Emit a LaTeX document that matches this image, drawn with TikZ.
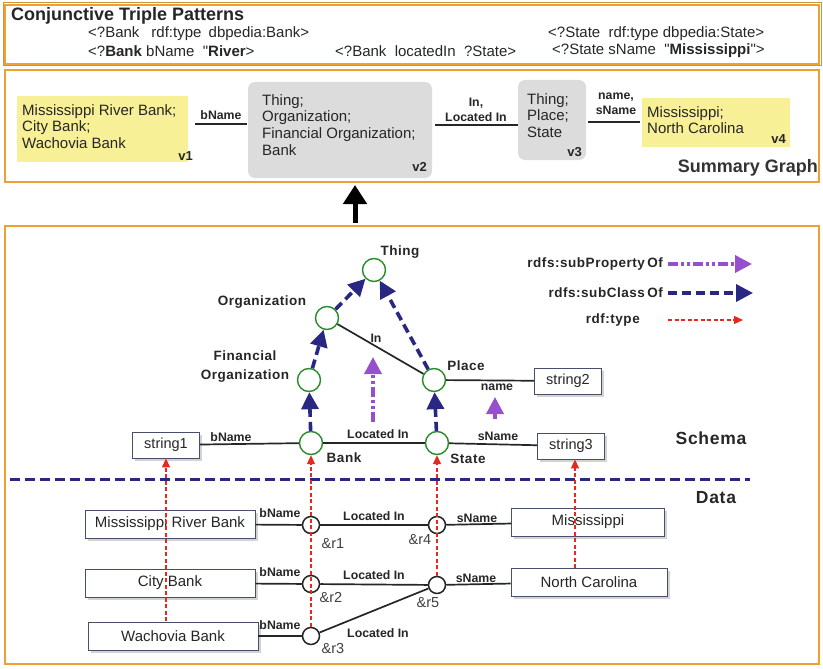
\documentclass[tikz,border=0pt]{standalone}
\usepackage{fontspec}
\setmainfont{Liberation Sans}
\newfontfamily\spacedsans[LetterSpace=4]{Liberation Sans}
\usetikzlibrary{arrows.meta,shadows}

\definecolor{frameor}{RGB}{240,160,50}
\definecolor{framegold}{RGB}{200,150,60}
\definecolor{sumyel}{RGB}{248,240,150}
\definecolor{sumgry}{RGB}{220,220,220}
\definecolor{clsgreen}{RGB}{40,140,40}
\definecolor{navyb}{RGB}{40,40,130}
\definecolor{violet2}{RGB}{150,80,205}
\definecolor{typered}{RGB}{230,40,30}
\definecolor{boxedge}{RGB}{70,80,105}

\tikzset{
  panel/.style={draw=frameor,line width=1.6pt},
  sumtxt/.style={font=\fontsize{15}{16.8}\selectfont,align=left,anchor=north west,inner sep=0pt,text=black!85},
  vtag/.style={font=\fontsize{13}{15}\selectfont\bfseries,anchor=south east,inner sep=0pt,text=black!85},
  sumedge/.style={line width=2.4pt,black!85},
  elabel/.style={font=\fontsize{12.3}{13}\selectfont\bfseries,inner sep=1pt,text=black!85},
  schlabel/.style={font=\spacedsans\fontsize{13.5}{15}\selectfont\bfseries,inner sep=1pt,text=black!85},
  cls/.style={circle,draw=clsgreen,line width=1.4pt,minimum size=23pt,inner sep=0pt,fill=white},
  inst/.style={circle,draw=black!85,line width=1.5pt,minimum size=17pt,inner sep=0pt,fill=white},
  strbox/.style={draw=boxedge,line width=0.8pt,fill=white,drop shadow={opacity=0.35},
    minimum width=67pt,minimum height=26pt,font=\fontsize{14.5}{15}\selectfont,inner sep=0pt,text=black!85},
  databox/.style={draw=boxedge,line width=0.8pt,fill=white,drop shadow={opacity=0.35},
    minimum height=28pt,font=\fontsize{15}{16}\selectfont,inner sep=0pt,text=black!85},
  schedge/.style={line width=1.7pt,black!85},
  subcls/.style={navyb,line width=3.6pt,dash pattern=on 9pt off 5pt,
    -{Triangle[length=17pt,width=17pt]}},
  subprop/.style={violet2,line width=3.6pt,dash pattern=on 10pt off 3pt on 3pt off 3pt on 3pt off 3pt,
    -{Triangle[length=17pt,width=17pt]}},
  rdftype/.style={typered,line width=1.2pt,dash pattern=on 4pt off 2.5pt,
    -{Triangle[length=9pt,width=8pt]}},
  ilabel/.style={font=\fontsize{14.5}{15}\selectfont,inner sep=0pt,text=black!75},
}

\begin{document}
\begin{tikzpicture}[x=1pt,y=-1pt]
\useasboundingbox (0,0) rectangle (823,669);

% ---------- conjunctive triple patterns ----------
\draw[framegold,line width=1pt] (3,3) rectangle (821,66);
\draw[panel] (5,5) rectangle (819,64);
\node[anchor=west,inner sep=0pt,font=\fontsize{18}{20}\selectfont\bfseries,text=black!85] (ctp) at (11,16) {Conjunctive Triple Patterns};
\begin{scope}[every node/.style={anchor=west,inner sep=0pt,font=\fontsize{15}{16}\selectfont,text=black!85}]
  \node (q1) at (88,34) {<?Bank\hspace{12pt}rdf:type\hspace{3pt} dbpedia:Bank>};
  \node (q2) at (88,51) {<?\textbf{Bank} bName \ \textquotedbl\textbf{River}>};
  \node (q3) at (335,51) {<?Bank\ \ locatedIn \ ?State>};
  \node (q4) at (548,34) {<?State\ \ rdf:type dbpedia:State>};
  \node (q5) at (552,51) {<?State sName \ \textquotedbl\textbf{Mississippi}\textquotedbl>};
\end{scope}

% ---------- summary graph ----------
\draw[panel] (5,70) rectangle (819,182);
\fill[sumyel] (17,96) rectangle (188,162);
\node[sumtxt] (v1t) at (22,104) {Mississippi River Bank;\\City Bank;\\Wachovia Bank};
\node[vtag] (v1) at (193,161) {v1};
\fill[sumgry,rounded corners=7pt] (248,82) rectangle (432,178);
\node[sumtxt] (v2t) at (262,94) {Thing;\\Organization;\\Financial Organization;\\Bank};
\node[vtag] (v2) at (427,172) {v2};
\fill[sumgry,rounded corners=7pt] (518,80) rectangle (586,160);
\node[sumtxt] (v3t) at (527,93) {Thing;\\Place;\\State};
\node[vtag] (v3) at (582,157) {v3};
\fill[sumyel] (642,98) rectangle (790,147);
\node[sumtxt] (v4t) at (647,106) {Mississippi;\\North Carolina};
\node[vtag] (v4) at (786,144) {v4};

\coordinate (e1a) at (195,124); \coordinate (e1b) at (247,124);
\draw[sumedge] (e1a) -- (e1b);
\node[elabel] (l1) at (221,115) {bName};
\coordinate (e2a) at (435,125); \coordinate (e2b) at (518,125);
\draw[sumedge] (e2a) -- (e2b);
\node[elabel,align=center,font=\fontsize{12.3}{15}\selectfont\bfseries] (l2) at (476,110) {In,\\Located In};
\coordinate (e3a) at (588,122); \coordinate (e3b) at (640,122);
\draw[sumedge] (e3a) -- (e3b);
\node[elabel,align=center,font=\fontsize{12.3}{15}\selectfont\bfseries] (l3) at (616,104) {name,\\sName};
\node[anchor=east,inner sep=0pt,font=\fontsize{18}{20}\selectfont\bfseries,text=black!80] (sg) at (818,168) {Summary Graph};

% arrow from the data graph up to its summary
\coordinate (up1) at (355,223); \coordinate (up2) at (355,185);
\draw[line width=5pt,-{Triangle[length=19pt,width=23pt]}] (up1) -- (up2);

% ---------- schema and data ----------
\draw[panel] (5,226) rectangle (819,664);

% legend
\node[schlabel,anchor=east] (lg1) at (664,264) {rdfs:subProperty\,Of};
\node[schlabel,anchor=east] (lg2) at (664,293) {rdfs:subClass\,Of};
\node[schlabel,anchor=east] (lg3) at (641,320) {rdf:type};
\coordinate (la1) at (668,264); \coordinate (lb1) at (752,264);
\coordinate (la2) at (668,293); \coordinate (lb2) at (753,293);
\coordinate (la3) at (668,320); \coordinate (lb3) at (743,320);
\draw[subprop] (la1) -- (lb1);
\draw[subcls] (la2) -- (lb2);
\draw[rdftype] (la3) -- (lb3);

% schema classes
\node[cls] (thing) at (374,270) {};
\node[cls] (org) at (327,318) {};
\node[cls] (fin) at (309,380) {};
\node[cls] (place) at (434,380) {};
\node[cls] (bank) at (311,443) {};
\node[cls] (state) at (437,443) {};
\node[schlabel] (thingl) at (400,252) {Thing};
\node[schlabel] (orgl) at (262,302) {Organization};
\node[schlabel,align=center,font=\spacedsans\fontsize{13.5}{19}\selectfont\bfseries] (finl) at (245,367) {Financial\\Organization};
\node[schlabel] (placel) at (466,366) {Place};
\node[schlabel] (bankl) at (344,458) {Bank};
\node[schlabel] (statel) at (468,459) {State};

\node[strbox] (s1) at (166,445) {string1};
\node[strbox] (s2) at (568,381) {string2};
\node[strbox] (s3) at (571,446) {string3};

% properties
\draw[schedge] (s1) -- (bank);
\draw[schedge] (bank) -- (state);
\draw[schedge] (state) -- (s3);
\draw[schedge] (place) -- (s2);
\draw[schedge] (org) -- (place);
\node[elabel] (pl1) at (231,437) {bName};
\node[elabel] (pl2) at (378,434) {Located In};
\node[elabel] (pl3) at (498,436) {sName};
\node[elabel] (pl4) at (497,387) {name};
\node[elabel] (pl5) at (376,338) {In};

% subclass links
\draw[subcls] (bank) -- (fin);
\draw[subcls] (fin) -- (org);
\draw[subcls] (org) -- (thing);
\draw[subcls] (place) -- (thing);
\draw[subcls] (state) -- (place);

% subproperty links
\coordinate (sp1a) at (373,422); \coordinate (sp1b) at (373,357);
\coordinate (sp2a) at (495,419); \coordinate (sp2b) at (495,397);
\draw[subprop] (sp1a) -- (sp1b);
\draw[subprop] (sp2a) -- (sp2b);

\node[schlabel,font=\spacedsans\fontsize{17.5}{19}\selectfont\bfseries] (schema) at (711,438) {Schema};
\coordinate (sep1) at (10,479); \coordinate (sep2) at (750,479);
\draw[navyb,line width=3pt,dash pattern=on 10pt off 5pt] (sep1) -- (sep2);
\node[schlabel,font=\spacedsans\fontsize{17.5}{19}\selectfont\bfseries] (data) at (716,498) {Data};

% data instances
\node[databox,minimum width=170pt] (mrb) at (170,524) {Mississippi River Bank};
\node[databox,minimum width=170pt] (cb) at (170,583) {City Bank};
\node[databox,minimum width=170pt] (wb) at (173,636) {Wachovia Bank};
\node[databox,minimum width=153pt] (ms) at (588,522) {Mississippi};
\node[databox,minimum width=156pt] (nc) at (589,582) {North Carolina};

\node[inst] (r1) at (311,525) {};
\node[inst] (r2) at (311,584) {};
\node[inst] (r3) at (311,636) {};
\node[inst] (r4) at (437,525) {};
\node[inst] (r5) at (437,585) {};
\node[ilabel] (r1l) at (333,544) {\&r1};
\node[ilabel] (r2l) at (331,598) {\&r2};
\node[ilabel] (r3l) at (333,649) {\&r3};
\node[ilabel] (r4l) at (420,540) {\&r4};
\node[ilabel] (r5l) at (428,603) {\&r5};

\draw[schedge] (mrb) -- (r1);
\draw[schedge] (cb) -- (r2);
\draw[schedge] (wb) -- (r3);
\draw[schedge] (r1) -- (r4);
\draw[schedge] (r2) -- (r5);
\draw[schedge] (r3) -- (r5);
\draw[schedge] (r4) -- (ms);
\draw[schedge] (r5) -- (nc);
\node[elabel] (d1) at (280,513) {bName};
\node[elabel] (d2) at (280,572) {bName};
\node[elabel] (d3) at (280,625) {bName};
\node[elabel] (d4) at (374,516) {Located In};
\node[elabel] (d5) at (374,575) {Located In};
\node[elabel] (d6) at (378,633) {Located In};
\node[elabel] (d7) at (477,518) {sName};
\node[elabel] (d8) at (476,578) {sName};

% rdf:type links from instances to classes
\coordinate (t1) at (166,621);
\coordinate (t4) at (575,568);
\draw[rdftype] (t1) -- (s1);
\draw[rdftype] (r3.north) -- (bank);
\draw[rdftype] (r5.north) -- (state);
\draw[rdftype] (t4) -- (t4 |- s3.south);
\end{tikzpicture}
\end{document}
